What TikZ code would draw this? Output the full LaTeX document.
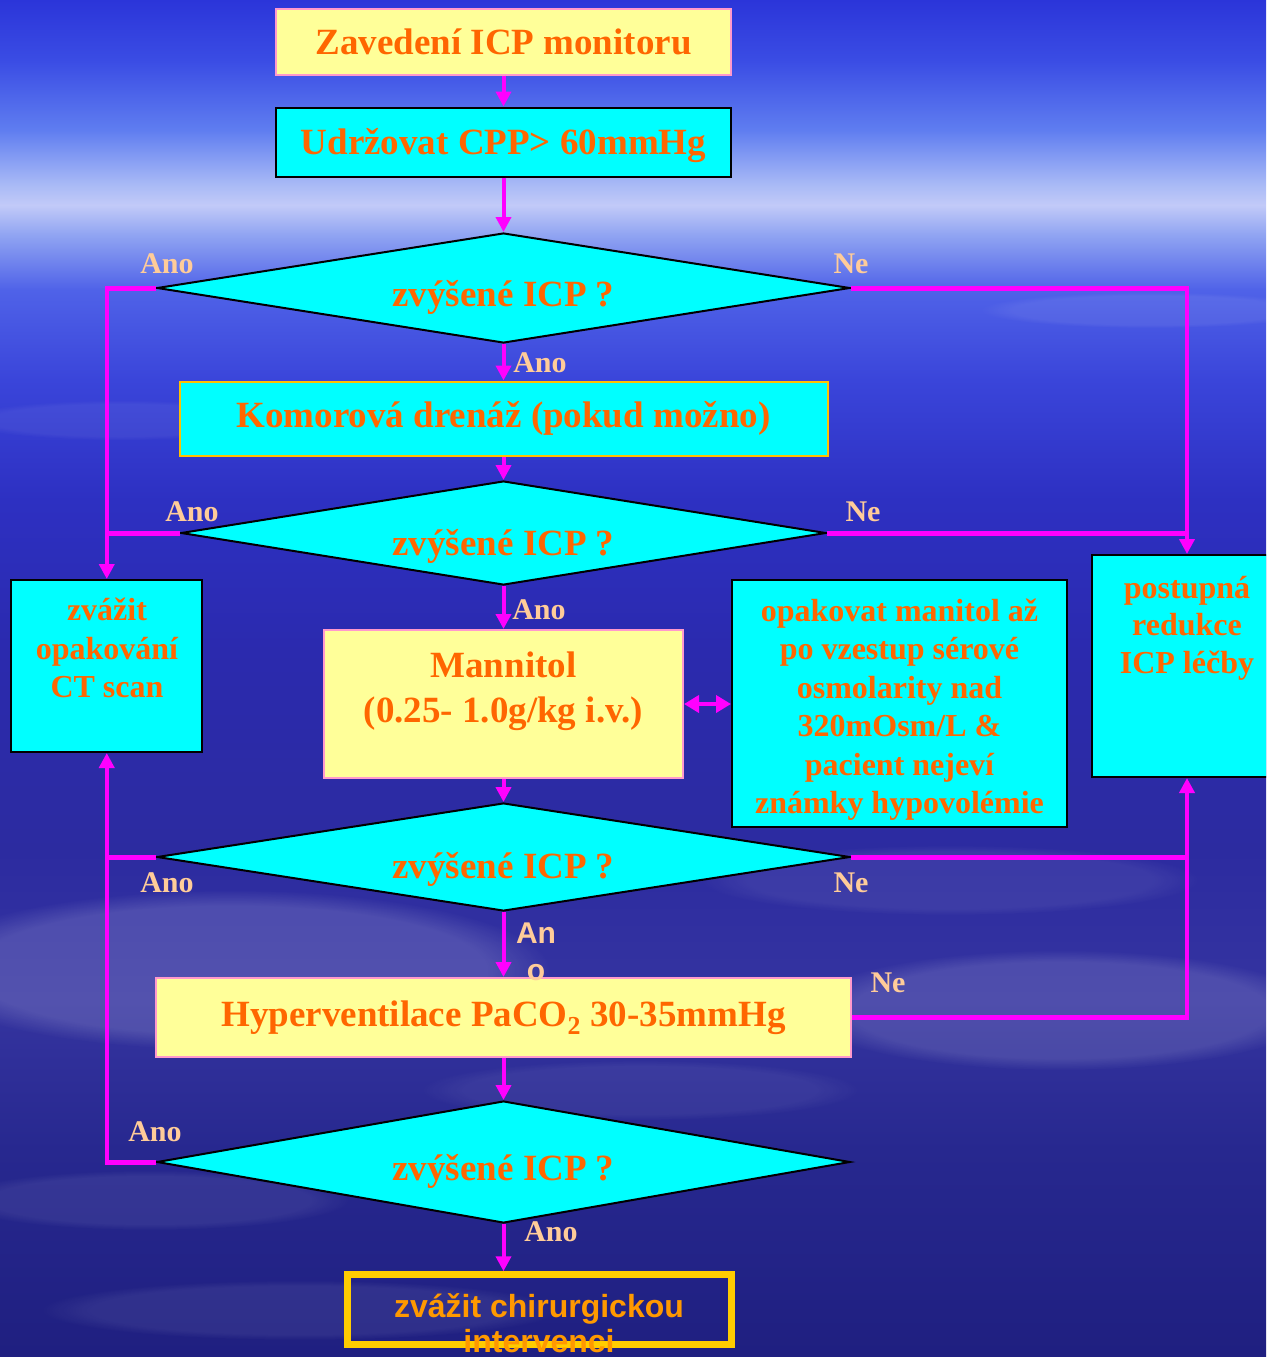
\documentclass[tikz,border=0pt]{standalone}
\usepackage{fontspec}
\setmainfont{Liberation Serif}
\newfontfamily\sansfam{Liberation Sans}
\usetikzlibrary{shapes.geometric,arrows.meta,fadings}

\definecolor{txtorange}{HTML}{FF6600}
\definecolor{peach}{HTML}{FFCC99}
\definecolor{lyellow}{HTML}{FFFF99}
\definecolor{cyanbox}{HTML}{00FFFF}
\definecolor{pinkb}{HTML}{FF99CC}
\definecolor{mag}{HTML}{FF00FF}
\definecolor{gold}{HTML}{FFCC00}
\definecolor{finaltxt}{HTML}{FF9900}

\definecolor{bgA}{HTML}{2B35D9}
\definecolor{bgB}{HTML}{3A4CE4}
\definecolor{bgC}{HTML}{5F7DF0}
\definecolor{bgD}{HTML}{A9BAF6}
\definecolor{bgE}{HTML}{C2CAF8}
\definecolor{bgF}{HTML}{90A4F2}
\definecolor{bgG}{HTML}{4F62E8}
\definecolor{bgH}{HTML}{3A45DA}
\definecolor{bgI}{HTML}{2D30C2}
\definecolor{bgJ}{HTML}{2B2AAE}
\definecolor{bgK}{HTML}{2C2BA0}
\definecolor{bgL}{HTML}{3534A0}
\definecolor{bgM}{HTML}{27288F}
\definecolor{bgN}{HTML}{1F1F80}

\pgfdeclareverticalshading{skybg}{100bp}{color(0bp)=(bgN); color(25bp)=(bgN); color(32.63bp)=(bgM); color(38.15bp)=(bgL); color(43.68bp)=(bgK); color(51.05bp)=(bgJ); color(56.58bp)=(bgI); color(61bp)=(bgH); color(64.31bp)=(bgG); color(66.34bp)=(bgF); color(67.44bp)=(bgE); color(68.19bp)=(bgD); color(70.21bp)=(bgC); color(72.79bp)=(bgB); color(75bp)=(bgA); color(100bp)=(bgA)}

\begin{document}
\begin{tikzpicture}[x=1pt,y=-1pt,
  boxfont/.style={font=\bfseries\fontsize{37}{44}\selectfont, text=txtorange},
  smallfont/.style={font=\bfseries\fontsize{32}{38.5}\selectfont, text=txtorange},
  box/.style={rectangle, inner sep=0pt, line width=2pt, boxfont},
  ybox/.style={box, fill=lyellow, draw=pinkb},
  cbox/.style={box, fill=cyanbox, draw=black},
  obox/.style={box, fill=cyanbox, draw=gold!85!orange},
  decision/.style={diamond, aspect=6, inner sep=0pt, fill=cyanbox, draw=black, line width=2pt, boxfont, text height=44pt, text depth=8pt},
  lbl/.style={font=\bfseries\fontsize{30}{36}\selectfont, text=peach, inner sep=0pt},
  flow/.style={draw=mag, line width=4pt, -{Triangle[length=15pt,width=15pt]}},
  hlink/.style={draw=mag, line width=5pt},
  vlink/.style={draw=mag, line width=4pt},
  cloud/.style={fill=white, path fading=circle with fuzzy edge 20 percent}
]
\useasboundingbox (0,0) rectangle (1266,1357);
\clip (0,0) rectangle (1266,1357);
\shade[shading=skybg] (0,0) rectangle (1266,1357);

% soft cloud streaks
\fill[cloud, opacity=0.15] (230,970) ellipse (320 and 80);
\fill[cloud, opacity=0.13] (1060,1010) ellipse (260 and 60);
\fill[cloud, opacity=0.06] (640,1090) ellipse (220 and 30);
\fill[cloud, opacity=0.07] (150,1200) ellipse (200 and 30);
\fill[cloud, opacity=0.06] (120,420) ellipse (160 and 20);
\fill[cloud, opacity=0.07] (1150,310) ellipse (170 and 18);
\fill[cloud, opacity=0.07] (950,880) ellipse (250 and 35);
\fill[cloud, opacity=0.07] (300,1310) ellipse (260 and 30);

% nodes
\node[ybox, minimum width=455pt, minimum height=66pt] (b1) at (503.5,41.5) {Zavedení ICP monitoru};
\node[cbox, minimum width=455pt, minimum height=69pt, text height=32pt, text depth=8pt] (b2) at (503.5,142) {Udržovat CPP> 60mmHg};
\node[decision, minimum width=693pt, minimum height=110pt] (d1) at (503.5,288) {zvýšené ICP ?};
\node[obox, minimum width=648pt, minimum height=74pt] (b3) at (503.5,418.5) {Komorová drenáž (pokud možno)};
\node[decision, minimum width=645pt, minimum height=104pt, text height=52pt] (d2) at (503.5,533) {zvýšené ICP ?};

\node[cbox, minimum width=191pt, minimum height=172pt] (ct) at (106.75,666) {};
\node[smallfont, align=center, inner sep=0pt] (cttxt) at (107,648) {zvážit\\opakování\\CT scan};

\node[ybox, minimum width=359pt, minimum height=148pt] (mann) at (503.5,704) {};
\node[boxfont, font=\bfseries\fontsize{37}{45}\selectfont, align=center, inner sep=0pt] (manntxt) at (503.5,691) {Mannitol\\(0.25- 1.0g/kg i.v.)};

\node[cbox, minimum width=335pt, minimum height=247pt] (opak) at (899.5,703.5) {};
\node[smallfont, align=center, inner sep=0pt] (opaktxt) at (899.5,709.5) {opakovat manitol až\\po vzestup sérové\\osmolarity nad\\320mOsm/L \&\\pacient nejeví\\známky hypovolémie};

\node[cbox, minimum width=190pt, minimum height=222pt] (post) at (1187,666) {};
\node[smallfont, font=\bfseries\fontsize{32}{37.5}\selectfont, align=center, inner sep=0pt] (posttxt) at (1187,628) {postupná\\redukce\\ICP léčby};

\node[decision, minimum width=693pt, minimum height=108pt, text height=50pt] (d3) at (503.5,857) {zvýšené ICP ?};
\node[ybox, minimum width=695pt, minimum height=79pt] (hyp) at (503.5,1017.5) {Hyperventilace PaCO\textsubscript{2} 30-35mmHg};
\node[decision, minimum width=693pt, minimum height=122pt] (d4) at (503.5,1162) {zvýšené ICP ?};

\node[draw=gold, line width=6.5pt, minimum width=384pt, minimum height=70pt, inner sep=0pt] (fin) at (539.5,1309.5) {};
\node[font=\sansfam\bfseries\fontsize{32}{35}\selectfont, text=finaltxt, align=center, inner sep=0pt] (fintxt) at (539,1323) {zvážit chirurgickou\\intervenci};

% labels
\node[lbl] (l1) at (167,264) {Ano};
\node[lbl] (l2) at (851,264) {Ne};
\node[lbl] (l3) at (540,363) {Ano};
\node[lbl] (l4) at (192,512) {Ano};
\node[lbl] (l5) at (863,512) {Ne};
\node[lbl] (l6) at (539,610) {Ano};
\node[lbl] (l7) at (167,883) {Ano};
\node[lbl] (l8) at (851,883) {Ne};
\node[lbl, font=\sansfam\bfseries\fontsize{30}{37}\selectfont, align=center] (l9) at (536,952) {An\\o};
\node[lbl] (l10) at (888,983) {Ne};
\node[lbl] (l11) at (155,1132) {Ano};
\node[lbl] (l12) at (551,1232) {Ano};

% main flow
\draw[flow] (b1.south) -- (b1.south |- b2.north);
\draw[flow] (b2.south) -- (b2.south |- d1.north);
\draw[flow] (d1.south) -- (d1.south |- b3.north);
\draw[flow] (b3.south) -- (b3.south |- d2.north);
\draw[flow] (d2.south) -- (d2.south |- mann.north);
\draw[flow] (mann.south) -- (mann.south |- d3.north);
\draw[flow] (d3.south) -- (d3.south |- hyp.north);
\draw[flow] (hyp.south) -- (hyp.south |- d4.north);
\draw[flow] (d4.south) -- (d4.south |- fin.north);

% double arrow
\draw[draw=mag, line width=4pt, {Triangle[length=15pt,width=17pt]}-{Triangle[length=15pt,width=17pt]}] (mann.east) -- (mann.east -| opak.west);

% left side: to CT scan
\coordinate (ltop) at (ct.north |- d1.west);
\coordinate (lbot) at (ct.south |- d4.west);
\draw[hlink] (d1.west) -- ([xshift=-2pt]ltop);
\draw[vlink, -{Triangle[length=15pt,width=15pt]}] (ltop) -- (ct.north);
\draw[hlink] (d2.west) -- ([xshift=-2pt]ct.north |- d2.west);
\draw[hlink] (d3.west) -- ([xshift=-2pt]ct.south |- d3.west);
\draw[hlink] (d4.west) -- ([xshift=-2pt]lbot);
\draw[vlink, -{Triangle[length=15pt,width=15pt]}] (lbot) -- (ct.south);

% right side: to postupna
\coordinate (rtop) at (post.north |- d1.east);
\coordinate (rbot) at (post.south |- hyp.east);
\draw[hlink] (d1.east) -- ([xshift=2pt]rtop);
\draw[vlink, -{Triangle[length=15pt,width=15pt]}] (rtop) -- (post.north);
\draw[hlink] (d2.east) -- ([xshift=2pt]post.north |- d2.east);
\draw[hlink] (d3.east) -- ([xshift=2pt]post.south |- d3.east);
\draw[hlink] (hyp.east) -- ([xshift=2pt]rbot);
\draw[vlink, -{Triangle[length=15pt,width=15pt]}] (rbot) -- (post.south);
\end{tikzpicture}
\end{document}
